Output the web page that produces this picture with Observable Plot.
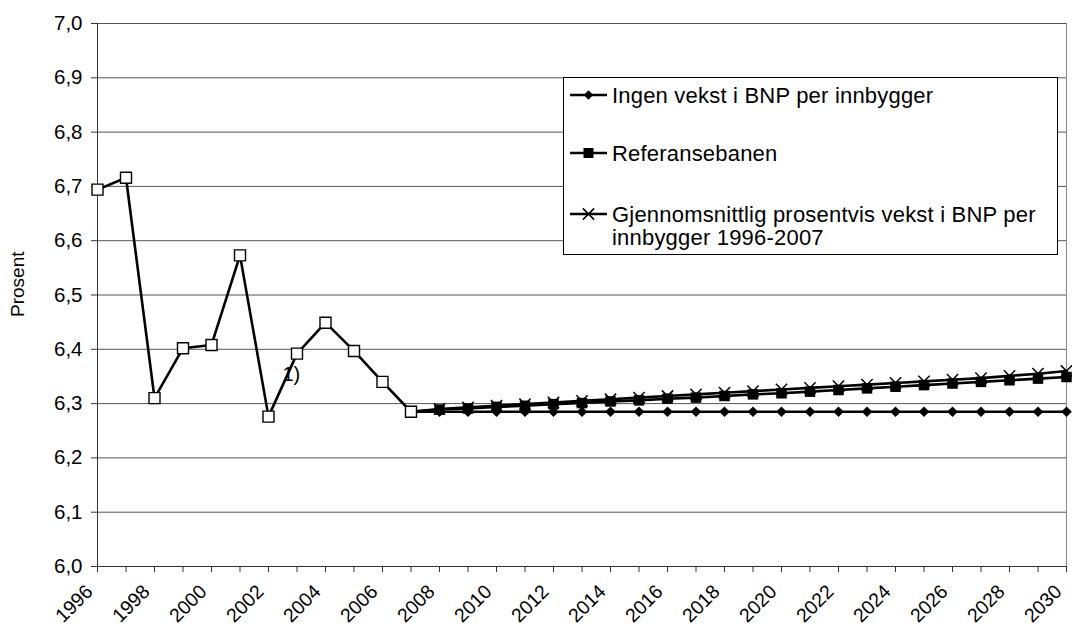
<!DOCTYPE html>
<html>
<head>
<meta charset="utf-8">
<script src="https://cdn.jsdelivr.net/npm/d3@7"></script>
<script src="https://cdn.jsdelivr.net/npm/@observablehq/plot@0.6"></script>
<style>
  body { margin: 0; background: #fff; }
  #chart { width: 1072px; height: 635px; }
</style>
</head>
<body>
<div id="chart"></div>
<script>
// ---------- data ----------
const histYears  = [1996, 1997, 1998, 1999, 2000, 2001, 2002, 2003, 2004, 2005, 2006, 2007];
const histValues = [6.694, 6.716, 6.310, 6.402, 6.408, 6.573, 6.276, 6.392, 6.449, 6.397, 6.340, 6.285];

const projYears = [2007, 2008, 2009, 2010, 2011, 2012, 2013, 2014, 2015, 2016, 2017, 2018,
                   2019, 2020, 2021, 2022, 2023, 2024, 2025, 2026, 2027, 2028, 2029, 2030];
const ingenVekst = [6.285, 6.285, 6.285, 6.285, 6.285, 6.285, 6.285, 6.285, 6.285, 6.285, 6.285, 6.285,
                    6.285, 6.285, 6.285, 6.285, 6.285, 6.285, 6.285, 6.285, 6.285, 6.285, 6.285, 6.285];
const referanse  = [6.285, 6.289, 6.291, 6.294, 6.296, 6.299, 6.301, 6.304, 6.306, 6.309, 6.311, 6.314,
                    6.317, 6.319, 6.322, 6.325, 6.328, 6.331, 6.334, 6.337, 6.340, 6.343, 6.346, 6.349];
const gjennomsnitt = [6.285, 6.290, 6.293, 6.296, 6.299, 6.302, 6.305, 6.308, 6.311, 6.314, 6.317, 6.320,
                      6.323, 6.326, 6.329, 6.332, 6.335, 6.338, 6.341, 6.344, 6.347, 6.351, 6.355, 6.360];

const seriesNames = [
  "Ingen vekst i BNP per innbygger",
  "Referansebanen",
  ["Gjennomsnittlig prosentvis vekst i BNP per", "innbygger 1996-2007"]
];
const seriesSymbols = ["diamond2", "square", "times"];

const yTicks = [6.0, 6.1, 6.2, 6.3, 6.4, 6.5, 6.6, 6.7, 6.8, 6.9, 7.0];
const allYears = [1996, 1997, 1998, 1999, 2000, 2001, 2002, 2003, 2004, 2005, 2006, 2007, 2008, 2009,
                  2010, 2011, 2012, 2013, 2014, 2015, 2016, 2017, 2018, 2019, 2020, 2021, 2022, 2023,
                  2024, 2025, 2026, 2027, 2028, 2029, 2030];
const xLabelYears = [1996, 1998, 2000, 2002, 2004, 2006, 2008, 2010, 2012, 2014, 2016, 2018,
                     2020, 2022, 2024, 2026, 2028, 2030];
const yLabel = "Prosent";
const notes = [{year: 2002.8, value: 6.353, text: "1)"}];

// ---------- build tables ----------
const hist = histYears.map((year, i) => ({year, value: histValues[i]}));
const mk = arr => projYears.map((year, i) => ({year, value: arr[i]}));
const sIngen = mk(ingenVekst), sRef = mk(referanse), sGj = mk(gjennomsnitt);
const markersOnly = arr => arr.filter(d => d.year >= 2008);

const W = 1072, H = 635;
const mL = 97, mR = 6, mT = 23, mB = 69;
const FONT = "'Liberation Sans', Arial, sans-serif";
const fmt = d => d.toFixed(1).replace(".", ",");
const sq = s => s / Math.sqrt(Math.PI); // side length -> Plot r for square
const R_DIAMOND = 4.8, R_TIMES = 5.2;

const plot = Plot.plot({
  width: W, height: H,
  marginLeft: mL, marginRight: mR, marginTop: mT, marginBottom: mB,
  x: {domain: [1996, 2030], axis: null},
  y: {domain: [6, 7], axis: null},
  style: {fontFamily: FONT, fontSize: "20px", background: "#fff", color: "#000"},
  marks: [
    Plot.ruleY(yTicks.filter(d => d > 6), {y: d => d, stroke: "#555", strokeWidth: 1}),
    Plot.ruleX([2030], {x: d => d, stroke: "#8a8a8a", strokeWidth: 1}),
    Plot.axisY({ticks: yTicks, tickSize: 6, tickPadding: 9, tickFormat: fmt, label: null,
                stroke: "#333", fill: "#000", fontSize: 20.5}),
    Plot.axisX({ticks: allYears, tickSize: 6, tickFormat: () => "", label: null, stroke: "#333"}),
    Plot.ruleY([6], {y: d => d, stroke: "#333", strokeWidth: 1}),
    Plot.ruleX([1996], {x: d => d, stroke: "#333", strokeWidth: 1}),
    Plot.text(xLabelYears, {x: d => d, y: 6, text: d => String(d), rotate: -45,
              textAnchor: "end", dx: -8, dy: 22, fontSize: 19.5, fill: "#000"}),
    Plot.text([yLabel], {frameAnchor: "left", text: d => d, rotate: -90, dx: -80, dy: 22, fontSize: 19, fill: "#000"}),
    // series lines
    Plot.line(sIngen, {x: "year", y: "value", stroke: "#000", strokeWidth: 2.6}),
    Plot.line(sGj, {x: "year", y: "value", stroke: "#000", strokeWidth: 2.6}),
    Plot.line(sRef, {x: "year", y: "value", stroke: "#000", strokeWidth: 2.6}),
    Plot.line(hist, {x: "year", y: "value", stroke: "#000", strokeWidth: 2.6}),
    // markers
    Plot.dot(markersOnly(sIngen), {x: "year", y: "value", symbol: "diamond2", r: R_DIAMOND, fill: "#000", stroke: "none"}),
    Plot.dot(markersOnly(sGj), {x: "year", y: "value", symbol: "times", r: R_TIMES, stroke: "#000", strokeWidth: 1.5, fill: "none"}),
    Plot.dot(markersOnly(sRef), {x: "year", y: "value", symbol: "square", r: sq(10.5), fill: "#000", stroke: "none"}),
    Plot.dot(hist, {x: "year", y: "value", symbol: "square", r: sq(11), fill: "#fff", stroke: "#000", strokeWidth: 1.4}),
    Plot.text(notes, {x: "year", y: "value", text: "text", fontSize: 20, fill: "#000"})
  ]
});

// ---------- legend (drawn inside the plot area, like the original) ----------
const svg = d3.select(plot);
const lg = svg.append("g").attr("font-family", FONT).attr("font-size", 22).attr("text-anchor", "start");
const box = {x: 563.5, y: 77.5, w: 494, h: 177};
lg.append("rect").attr("x", box.x).attr("y", box.y).attr("width", box.w).attr("height", box.h)
  .attr("fill", "#fff").attr("stroke", "#000").attr("stroke-width", 1);
const rowY = [95, 153, 214];
const symType = {diamond2: d3.symbolDiamond2, square: d3.symbolSquare, times: d3.symbolTimes};
seriesNames.forEach((name, i) => {
  const y = rowY[i];
  lg.append("line").attr("x1", 570).attr("x2", 607).attr("y1", y).attr("y2", y)
    .attr("stroke", "#000").attr("stroke-width", 2.6);
  const sym = d3.symbol().type(symType[seriesSymbols[i]]);
  const p = lg.append("path").attr("transform", `translate(588.5,${y})`);
  if (seriesSymbols[i] === "times") p.attr("d", sym.size(Math.PI * R_TIMES * R_TIMES)()).attr("fill", "none").attr("stroke", "#000").attr("stroke-width", 1.5);
  else if (seriesSymbols[i] === "square") p.attr("d", sym.size(100)()).attr("fill", "#000");
  else p.attr("d", sym.size(Math.PI * 4.2 * 4.2)()).attr("fill", "#000");
  const lines = Array.isArray(name) ? name : [name];
  lines.forEach((t, j) => {
    lg.append("text").attr("x", 612).attr("y", y + j * 23).attr("dy", "0.35em")
      .attr("text-anchor", "start").attr("letter-spacing", "0.2px").attr("fill", "#000").text(t);
  });
});

document.getElementById("chart").appendChild(plot);
</script>
</body>
</html>
